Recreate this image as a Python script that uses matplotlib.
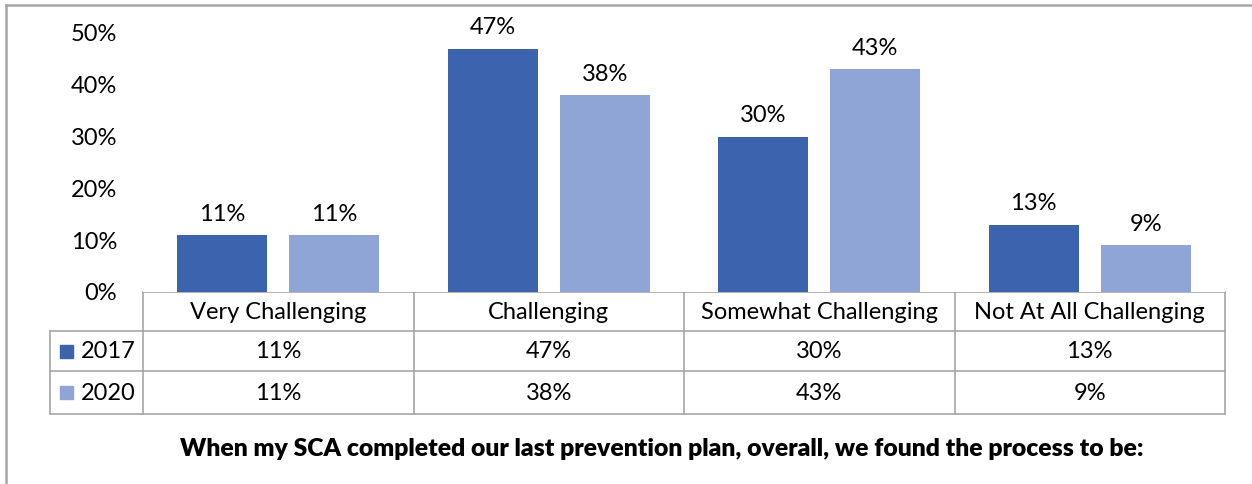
import matplotlib
matplotlib.use("Agg")
import matplotlib.pyplot as plt
from matplotlib.lines import Line2D
from matplotlib.patches import Rectangle
import numpy as np

categories = ["Very Challenging", "Challenging", "Somewhat Challenging", "Not At All Challenging"]
years = ["2017", "2020"]
vals_2017 = [11, 47, 30, 13]
vals_2020 = [11, 38, 43, 9]
yticks = [0, 10, 20, 30, 40, 50]
title = "When my SCA completed our last prevention plan, overall, we found the process to be:"

colors = ["#3C64AE", "#8FA5D5"]
grid_c = "#A6A6A6"
font = "Lato"
fs = 17

W, H = 1252, 484
fig = plt.figure(figsize=(W / 100, H / 100), dpi=100)

# pixel layout helpers
x0, x1 = 143, 1225
y_top, y_base = 33, 292


def fx(px):
    return px / W


def fy(py):
    return 1 - py / H


ax = fig.add_axes([fx(x0), fy(y_base), fx(x1) - fx(x0), fy(y_top) - fy(y_base)])
n = len(categories)
idx = np.arange(n) + 0.5
off, bw = 0.207, 0.333
series = [vals_2017, vals_2020]
for k, (vals, sgn) in enumerate(zip(series, [-1, 1])):
    bars = ax.bar(idx + sgn * off, vals, width=bw, color=colors[k], zorder=2)
    for b, v in zip(bars, vals):
        ax.text(b.get_x() + b.get_width() / 2, v + 2.0, f"{v}%", ha="center", va="bottom",
                fontsize=fs, family=font, clip_on=False)

ax.set_xlim(0, n)
ax.set_ylim(0, 50)
ax.set_yticks(yticks)
ax.set_yticklabels([f"{t}%" for t in yticks], fontsize=fs, family=font)
ax.tick_params(axis="y", length=0, pad=18.7)
ax.set_xticks([])
for s in ax.spines.values():
    s.set_visible(False)

# overlay for table, frame and title in pixel coords
ov = fig.add_axes([0, 0, 1, 1], zorder=-1)
ov.set_xlim(0, W)
ov.set_ylim(H, 0)
ov.axis("off")

# outer frame
ov.add_line(Line2D([6, 6], [5, H], color=grid_c, lw=1.8))
ov.add_line(Line2D([6, W], [5, 5], color=grid_c, lw=1.8))

# table
cols = np.linspace(x0, x1, n + 1)
rows = [292, 331, 371, 414]
leg_x = 50
ov.add_line(Line2D([x0, x1], [rows[0], rows[0]], color=grid_c, lw=1.2))
for r in rows[1:]:
    ov.add_line(Line2D([leg_x, x1], [r, r], color=grid_c, lw=1.2))
for c in cols:
    ov.add_line(Line2D([c, c], [rows[0], rows[-1]], color=grid_c, lw=1.2))
ov.add_line(Line2D([leg_x, leg_x], [rows[1], rows[-1]], color=grid_c, lw=1.2))

for i, cat in enumerate(categories):
    cx = (cols[i] + cols[i + 1]) / 2
    ov.text(cx, (rows[0] + rows[1]) / 2 + 1, cat, ha="center", va="center", fontsize=fs, family=font)
    for k in range(2):
        ov.text(cx, (rows[k + 1] + rows[k + 2]) / 2 + 1, f"{series[k][i]}%", ha="center",
                va="center", fontsize=fs, family=font)

for k, yr in enumerate(years):
    cy = (rows[k + 1] + rows[k + 2]) / 2
    ov.add_patch(Rectangle((60, cy - 6.5), 13, 13, color=colors[k]))
    ov.text(81, cy + 1, yr, ha="left", va="center", fontsize=fs, family=font)

ov.text(662, 449, title, ha="center", va="center", fontsize=17.8, family=font, fontweight="heavy")

fig.savefig("out.png", dpi=100)
